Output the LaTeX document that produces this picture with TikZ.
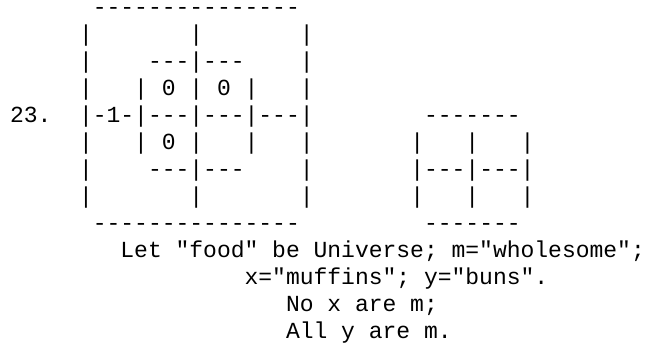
\documentclass[tikz,border=0pt]{standalone}
\usepackage{fontspec}
\setmonofont{Liberation Mono}
\begin{document}
\begin{tikzpicture}[x=1pt,y=1pt,
  asciiline/.style={anchor=base west,inner sep=0pt,outer sep=0pt,font=\ttfamily\fontsize{23}{27}\selectfont}]
\fill[white] (0,0) rectangle (645,-343);
\useasboundingbox (0,0) rectangle (645,-343);
\node[asciiline] (l1)  at (10,-14.7)  {~~~~~~---------------};
\node[asciiline] (l2)  at (10,-41.7)  {~~~~~|~~~~~~~|~~~~~~~|};
\node[asciiline] (l3)  at (10,-68.7)  {~~~~~|~~~~---|---~~~~|};
\node[asciiline] (l4)  at (10,-95.7)  {~~~~~|~~~|~0~|~0~|~~~|};
\node[asciiline] (l5)  at (10,-122.7) {23.~~|-1-|---|---|---|~~~~~~~~-------};
\node[asciiline] (l6)  at (10,-149.7) {~~~~~|~~~|~0~|~~~|~~~|~~~~~~~|~~~|~~~|};
\node[asciiline] (l7)  at (10,-176.7) {~~~~~|~~~~---|---~~~~|~~~~~~~|---|---|};
\node[asciiline] (l8)  at (10,-203.7) {~~~~~|~~~~~~~|~~~~~~~|~~~~~~~|~~~|~~~|};
\node[asciiline] (l9)  at (10,-230.7) {~~~~~~---------------~~~~~~~~~-------};
\node[asciiline] (l10) at (10,-257.7) {~~~~~~~~Let "food" be Universe; m="wholesome";};
\node[asciiline] (l11) at (10,-284.7) {~~~~~~~~~~~~~~~~~x="muffins"; y="buns".};
\node[asciiline] (l12) at (10,-311.7) {~~~~~~~~~~~~~~~~~~~~No x are m;};
\node[asciiline] (l13) at (10,-338.7) {~~~~~~~~~~~~~~~~~~~~All y are m.};
\end{tikzpicture}
\end{document}
